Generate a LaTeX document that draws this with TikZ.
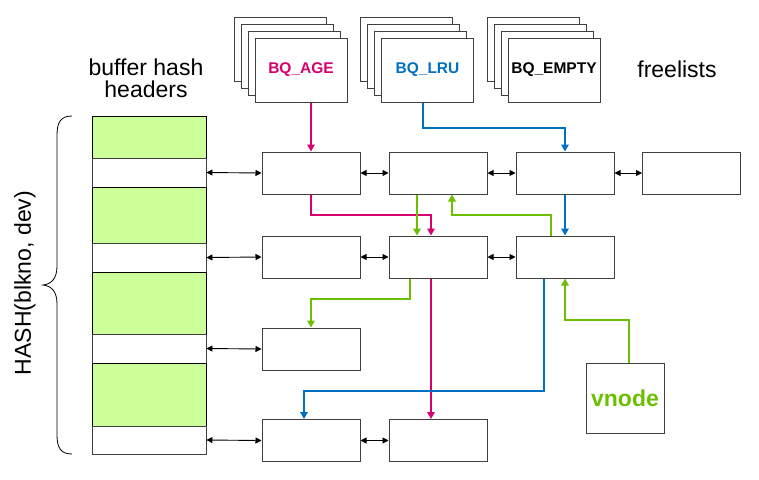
\documentclass[tikz,border=0pt]{standalone}
\usepackage{fontspec}
\setmainfont{Liberation Sans}
\usetikzlibrary{arrows.meta}
\definecolor{qpink}{HTML}{D6006E}
\definecolor{qblue}{HTML}{0070C0}
\definecolor{qgreen}{HTML}{6CBF00}
\definecolor{qlgreen}{HTML}{CCFF99}
\definecolor{qgray}{HTML}{404040}
\tikzset{
  bufbox/.style={draw=qgray, line width=1pt, fill=white, minimum width=98pt, minimum height=42pt, inner sep=0pt},
  stackbox/.style={draw=qgray, line width=1pt, fill=white, minimum width=92pt, minimum height=64pt, inner sep=0pt, font=\fontsize{15.5}{18}\selectfont\bfseries},
  gband/.style={draw=black, line width=0.9pt, fill=qlgreen, minimum width=114pt, inner sep=0pt},
  wband/.style={draw=qgray, line width=0.9pt, fill=white, minimum width=114pt, inner sep=0pt},
  link/.style={black, line width=0.9pt, {Triangle[length=6pt,width=6pt]}-{Triangle[length=6pt,width=6pt]}},
  carrow/.style={line width=2.6pt, -{Triangle[length=7pt,width=7.5pt]}},
  lbl/.style={inner sep=0pt, font=\fontsize{23}{23}\selectfont},
}
\begin{document}
\begin{tikzpicture}[x=1pt,y=-1pt]
\useasboundingbox (0,0) rectangle (759,479);
% labels
\node[lbl, anchor=base] (t1) at (146,75) {buffer hash};
\node[lbl, anchor=base] (t2) at (146,97) {headers};
\node[lbl, anchor=base] (t3) at (677,77) {freelists};
\node[lbl, rotate=90] (t4) at (25,283) {HASH(blkno, dev)};
% brace
\draw[line width=0.8pt] (72,116) .. controls (61,116) and (57,122) .. (57,135) -- (57,266)
  .. controls (57,278) and (52,284) .. (43,285) .. controls (52,286) and (57,292) .. (57,304)
  -- (57,435) .. controls (57,448) and (61,454) .. (72,454);
% stacks
\foreach \k in {3,2,1} {
  \node[stackbox] at (301-7*\k,70-7*\k) {};
  \node[stackbox] at (427.5-7*\k,70-7*\k) {};
  \node[stackbox] at (554-7*\k,70-7*\k) {};
}
\node[stackbox, text=qpink] (age) at (301,70) {BQ\_AGE};
\node[stackbox, text=qblue] (lru) at (427.5,70) {BQ\_LRU};
\node[stackbox] (empty) at (554,70) {BQ\_EMPTY};
% hash column
\node[gband, minimum height=42pt] (g1) at (149,137) {};
\node[wband, minimum height=29pt] (hb1) at (149,172.5) {};
\node[gband, minimum height=56pt] (g2) at (149,215) {};
\node[wband, minimum height=29pt] (hb2) at (149,257.5) {};
\node[gband, minimum height=62pt] (g3) at (149,303) {};
\node[wband, minimum height=29pt] (hb3) at (149,348.5) {};
\node[gband, minimum height=63pt] (g4) at (149,394.5) {};
\node[wband, minimum height=28pt] (hb4) at (149,440) {};
% buffers
\node[bufbox] (r1c1) at (311,173) {};
\node[bufbox] (r1c2) at (438,173) {};
\node[bufbox] (r1c3) at (565,173) {};
\node[bufbox] (r1c4) at (691.5,173) {};
\node[bufbox] (r2c1) at (311,257) {};
\node[bufbox] (r2c2) at (438,257) {};
\node[bufbox] (r2c3) at (565,257) {};
\node[bufbox] (r3c1) at (311,349) {};
\node[bufbox] (r4c1) at (311,440.5) {};
\node[bufbox] (r4c2) at (438,440.5) {};
\node[draw=qgray, line width=1pt, minimum width=78pt, minimum height=70pt, inner sep=0pt,
  text=qgreen, font=\fontsize{23}{23}\selectfont\bfseries] (vnode) at (625,398) {vnode};
% black links
\draw[link] (hb1.east) -- (r1c1.west);
\draw[link] (r1c1) -- (r1c2);
\draw[link] (r1c2) -- (r1c3);
\draw[link] (r1c3) -- (r1c4);
\draw[link] (hb2.east) -- (r2c1.west);
\draw[link] (r2c1) -- (r2c2);
\draw[link] (r2c2) -- (r2c3);
\draw[link] (hb3.east) -- (r3c1.west);
\draw[link] (hb4.east) -- (r4c1.west);
\draw[link] (r4c1) -- (r4c2);
% coordinates for bends
\coordinate (ya) at (0,128);
\coordinate (yb) at (0,215);
\coordinate (yc) at (0,299);
\coordinate (yd) at (0,320);
\coordinate (ye) at (0,391);
% pink
\draw[carrow, qpink] (r1c1.north |- age.south) -- (r1c1.north);
\draw[carrow, qpink] (r1c1.south) |- ([xshift=-7pt]r2c2.north |- yb) -- ([xshift=-7pt]r2c2.north);
\draw[carrow, qpink] ([xshift=-7pt]r2c2.south) -- ([xshift=-7pt]r4c2.north);
% blue
\draw[carrow, qblue] ([xshift=-4.5pt]lru.south) |- (r1c3.north |- ya) -- (r1c3.north);
\draw[carrow, qblue] (r1c3.south) -- (r2c3.north);
\draw[carrow, qblue] ([xshift=-21pt]r2c3.south) |- ([xshift=-7pt]r4c1.north |- ye) -- ([xshift=-7pt]r4c1.north);
% green
\draw[carrow, qgreen] ([xshift=-21pt]r1c2.south) -- ([xshift=-21pt]r2c2.north);
\draw[carrow, qgreen] ([xshift=-14pt]r2c3.north) |- ([xshift=14pt]r1c2.south |- yb) -- ([xshift=14pt]r1c2.south);
\draw[carrow, qgreen] ([xshift=-28pt]r2c2.south) |- (r3c1.north |- yc) -- (r3c1.north);
\draw[carrow, qgreen] ([xshift=4pt]vnode.north) |- (r2c3.south |- yd) -- (r2c3.south);
\end{tikzpicture}
\end{document}
